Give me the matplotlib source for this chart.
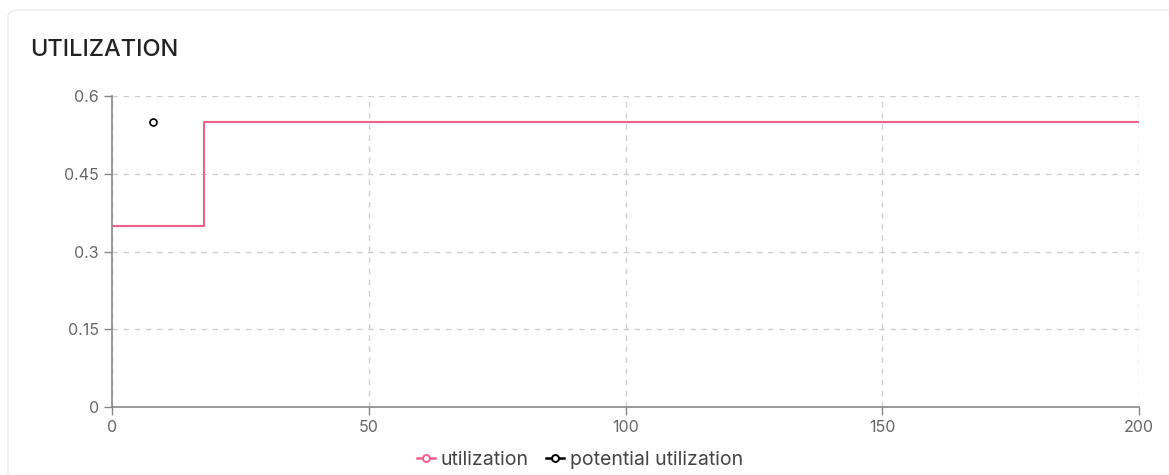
import matplotlib.pyplot as plt
from matplotlib.patches import FancyBboxPatch
from matplotlib.lines import Line2D

# data
util_x = [0, 18, 200]
util_y = [0.35, 0.55, 0.55]
pot_x = [8]
pot_y = [0.55]
x_ticks = [0, 50, 100, 150, 200]
y_ticks = [0, 0.15, 0.3, 0.45, 0.6]
y_labels = ['0', '0.15', '0.3', '0.45', '0.6']

pink = '#f0608a'
grey = '#666666'
plt.rcParams['font.family'] = ['Inter', 'DejaVu Sans']

fig = plt.figure(figsize=(11.69, 4.75), dpi=100)

# card background
card = FancyBboxPatch((8 / 1169, -0.05), 1.2, 1 - 10 / 475 + 0.05,
                      boxstyle='round,pad=0,rounding_size=0.012',
                      transform=fig.transFigure, facecolor='white',
                      edgecolor='#ececec', linewidth=1.0, zorder=-10)
fig.patches.append(card)

fig.text(30 / 1169, 1 - 50 / 475, 'UTILIZATION', fontsize=17, color='#222222',
         va='center', ha='left', fontweight='medium')

ax = fig.add_axes([112 / 1169, 1 - 407 / 475, (1139 - 112) / 1169, (407 - 96) / 475])
ax.patch.set_alpha(0)
ax.plot(util_x, util_y, drawstyle='steps-post', color=pink, linewidth=1.5)
ax.plot(pot_x, pot_y, linestyle='none', marker='o', markersize=5,
        markerfacecolor='white', markeredgecolor='black', markeredgewidth=1.2)

ax.set_xlim(0, 200)
ax.set_ylim(0, 0.6)
ax.set_xticks(x_ticks)
ax.set_yticks(y_ticks)
ax.set_yticklabels(y_labels)
ax.tick_params(colors='#888888', labelcolor=grey, labelsize=11.5, length=6, width=1)
ax.grid(True, linestyle=(0, (4, 4)), color='#d0d0d0', linewidth=1)
for s in ['top', 'right']:
    ax.spines[s].set_visible(False)
for s in ['left', 'bottom']:
    ax.spines[s].set_color('#888888')
    ax.spines[s].set_linewidth(1.2)

handles = [
    Line2D([], [], color=pink, marker='o', markersize=5, markerfacecolor='white',
           markeredgecolor=pink, markeredgewidth=1.4, linewidth=1.8),
    Line2D([], [], color='black', marker='o', markersize=5, markerfacecolor='white',
           markeredgecolor='black', markeredgewidth=1.4, linewidth=1.8),
]
fig.legend(handles, ['utilization', 'potential utilization'], loc='center',
           bbox_to_anchor=(580 / 1169, 1 - 460 / 475), ncol=2, frameon=False,
           fontsize=14, handlelength=0.9, handletextpad=0.3, columnspacing=0.9,
           labelcolor='#444444')

fig.savefig('out.png', dpi=100)
